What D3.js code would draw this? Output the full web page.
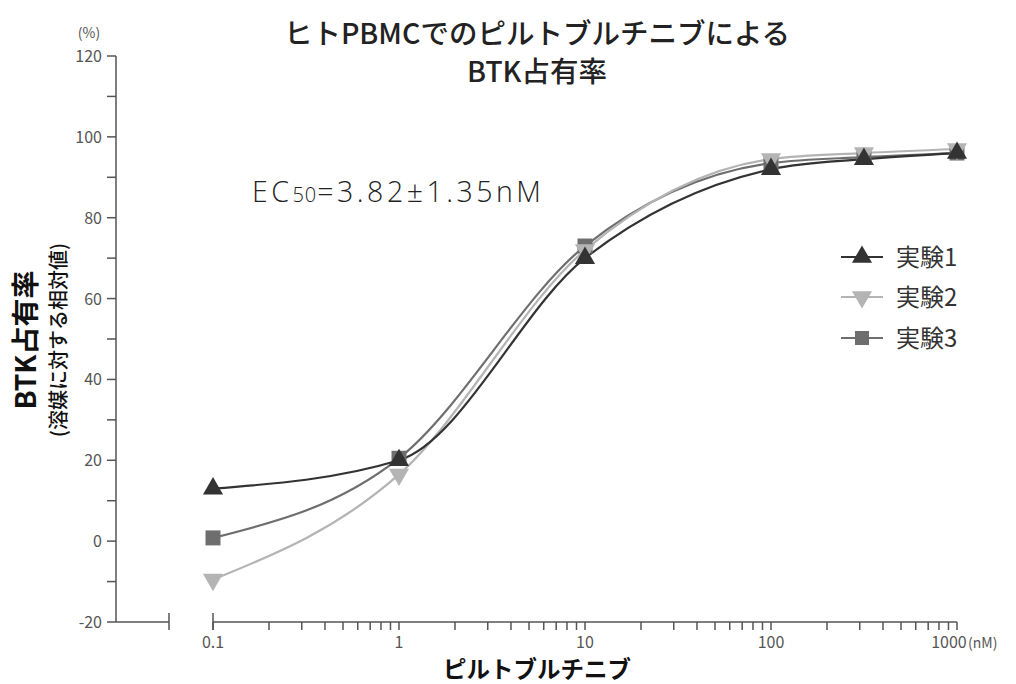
<!DOCTYPE html>
<html>
<head>
<meta charset="utf-8">
<script src="https://cdn.jsdelivr.net/npm/d3@7"></script>
<style>
body { margin: 0; background: #fff; }
svg { display: block; font-family: "Noto Sans CJK JP", "Noto Sans", sans-serif; }
</style>
</head>
<body>
<svg id="chart" width="1016" height="684"></svg>
<script>
// data
const doses = [0.1, 1, 10, 100, 316, 1000];
const exp1 = [13, 20, 70, 92, 94.5, 96];
const exp2 = [-9.5, 16.5, 72, 94.5, 96, 97];
const exp3 = [0.8, 20.5, 73, 93.5, 95, 96];
const seriesNames = ["実験1", "実験2", "実験3"];
const yTicks = [-20, 0, 20, 40, 60, 80, 100, 120];
const xTickLabels = [0.1, 1, 10, 100, 1000];

document.addEventListener("DOMContentLoaded", () => {
    const svg = d3.select("#chart");

    const x = d3.scaleLog().domain([0.1, 1000]).range([213, 957]);
    const y = d3.scaleLinear().domain([-20, 120]).range([622, 56]);
    const axisColor = "#555";

    // y axis
    svg.append("line")
        .attr("x1", 116).attr("x2", 116)
        .attr("y1", y(120)).attr("y2", y(-20))
        .attr("stroke", axisColor).attr("stroke-width", 1.5);

    d3.range(-20, 121, 10).forEach(v => {
        svg.append("line")
            .attr("x1", 107).attr("x2", 116)
            .attr("y1", y(v)).attr("y2", y(v))
            .attr("stroke", axisColor).attr("stroke-width", 1.5);
    });

    yTicks.forEach(v => {
        svg.append("text")
            .attr("x", 102)
            .attr("y", y(v) + 6)
            .attr("text-anchor", "end")
            .attr("font-size", "16px")
            .attr("fill", "#555")
            .text(v);
    });

    svg.append("text")
        .attr("x", 89).attr("y", 38)
        .attr("text-anchor", "middle")
        .attr("font-size", "14px")
        .attr("fill", "#555")
        .text("(%)");

    // x axis, broken after the y axis
    svg.append("line")
        .attr("x1", 116).attr("x2", 169)
        .attr("y1", y(-20)).attr("y2", y(-20))
        .attr("stroke", axisColor).attr("stroke-width", 1.5);
    svg.append("line")
        .attr("x1", 169).attr("x2", 169)
        .attr("y1", 613).attr("y2", 630)
        .attr("stroke", axisColor).attr("stroke-width", 1.5);

    svg.append("line")
        .attr("x1", x(0.1)).attr("x2", x(1000))
        .attr("y1", y(-20)).attr("y2", y(-20))
        .attr("stroke", axisColor).attr("stroke-width", 1.5);
    svg.append("line")
        .attr("x1", x(0.1)).attr("x2", x(0.1))
        .attr("y1", 613).attr("y2", 630)
        .attr("stroke", axisColor).attr("stroke-width", 1.5);

    x.ticks().forEach(t => {
        svg.append("line")
            .attr("x1", x(t)).attr("x2", x(t))
            .attr("y1", 622).attr("y2", 630)
            .attr("stroke", axisColor).attr("stroke-width", 1.5);
    });

    xTickLabels.forEach(t => {
        svg.append("text")
            .attr("x", x(t) - (t === 1000 ? 8 : 0))
            .attr("y", 648)
            .attr("text-anchor", "middle")
            .attr("font-size", "16px")
            .attr("fill", "#555")
            .text(t);
    });
    svg.append("text")
        .attr("x", x(1000) + 11).attr("y", 648)
        .attr("font-size", "14px")
        .attr("fill", "#555")
        .text("(nM)");

    // titles
    svg.append("text")
        .attr("x", 537).attr("y", 44)
        .attr("text-anchor", "middle")
        .attr("font-size", "28.5px")
        .attr("font-weight", 500)
        .attr("fill", "#222")
        .text("ヒトPBMCでのピルトブルチニブによる");
    svg.append("text")
        .attr("x", 537).attr("y", 82)
        .attr("text-anchor", "middle")
        .attr("font-size", "28.5px")
        .attr("font-weight", 500)
        .attr("fill", "#222")
        .text("BTK占有率");

    svg.append("text")
        .attr("x", 537).attr("y", 678)
        .attr("text-anchor", "middle")
        .attr("font-size", "23.5px")
        .attr("font-weight", "bold")
        .attr("fill", "#111")
        .text("ピルトブルチニブ");

    svg.append("text")
        .attr("transform", "translate(36,340) rotate(-90)")
        .attr("text-anchor", "middle")
        .attr("font-size", "28px")
        .attr("font-weight", "bold")
        .attr("fill", "#111")
        .text("BTK占有率");
    svg.append("text")
        .attr("transform", "translate(66,340) rotate(-90)")
        .attr("text-anchor", "middle")
        .attr("font-size", "20px")
        .attr("font-weight", 500)
        .attr("fill", "#111")
        .text("(溶媒に対する相対値)");

    // EC50 annotation
    const ec = svg.append("text")
        .attr("x", 252).attr("y", 202)
        .attr("font-family", "'Open Sans', 'Noto Sans CJK JP', sans-serif")
        .attr("font-size", "28.5px")
        .attr("font-weight", 300)
        .attr("letter-spacing", "3.5px")
        .attr("fill", "#222");
    ec.append("tspan").text("EC");
    ec.append("tspan").attr("font-size", "20px").attr("letter-spacing", "1px").text("50");
    ec.append("tspan").text("=3.82±1.35nM");

    // series
    const series = [
        { name: seriesNames[2], values: exp3, color: "#6e6e6e", symbol: d3.symbolSquare, size: 225, rotate: 0 },
        { name: seriesNames[1], values: exp2, color: "#b4b4b4", symbol: d3.symbolTriangle, size: 175, rotate: 180 },
        { name: seriesNames[0], values: exp1, color: "#333333", symbol: d3.symbolTriangle, size: 175, rotate: 0 }
    ];

    const line = d3.line()
        .x(d => x(d[0]))
        .y(d => y(d[1]))
        .curve(d3.curveMonotoneX);

    series.forEach(s => {
        const pts = doses.map((d, i) => [d, s.values[i]]);
        svg.append("path")
            .attr("d", line(pts))
            .attr("fill", "none")
            .attr("stroke", s.color)
            .attr("stroke-width", 2.2);
    });

    series.forEach(s => {
        const sym = d3.symbol().type(s.symbol).size(s.size);
        doses.forEach((d, i) => {
            svg.append("path")
                .attr("d", sym())
                .attr("transform", `translate(${x(d)},${y(s.values[i])}) rotate(${s.rotate})`)
                .attr("fill", s.color);
        });
    });

    // legend
    const legendRows = [
        { name: seriesNames[0], color: "#333333", symbol: d3.symbolTriangle, size: 175, rotate: 0, y: 257 },
        { name: seriesNames[1], color: "#b4b4b4", symbol: d3.symbolTriangle, size: 175, rotate: 180, y: 297 },
        { name: seriesNames[2], color: "#6e6e6e", symbol: d3.symbolSquare, size: 196, rotate: 0, y: 338 }
    ];
    legendRows.forEach(r => {
        svg.append("line")
            .attr("x1", 841).attr("x2", 883)
            .attr("y1", r.y).attr("y2", r.y)
            .attr("stroke", r.color).attr("stroke-width", 2.2);
        svg.append("path")
            .attr("d", d3.symbol().type(r.symbol).size(r.size)())
            .attr("transform", `translate(862,${r.y}) rotate(${r.rotate})`)
            .attr("fill", r.color);
        svg.append("text")
            .attr("x", 896).attr("y", r.y + 9)
            .attr("font-size", "24px")
            .attr("fill", "#333")
            .text(r.name);
    });
});
</script>
</body>
</html>
